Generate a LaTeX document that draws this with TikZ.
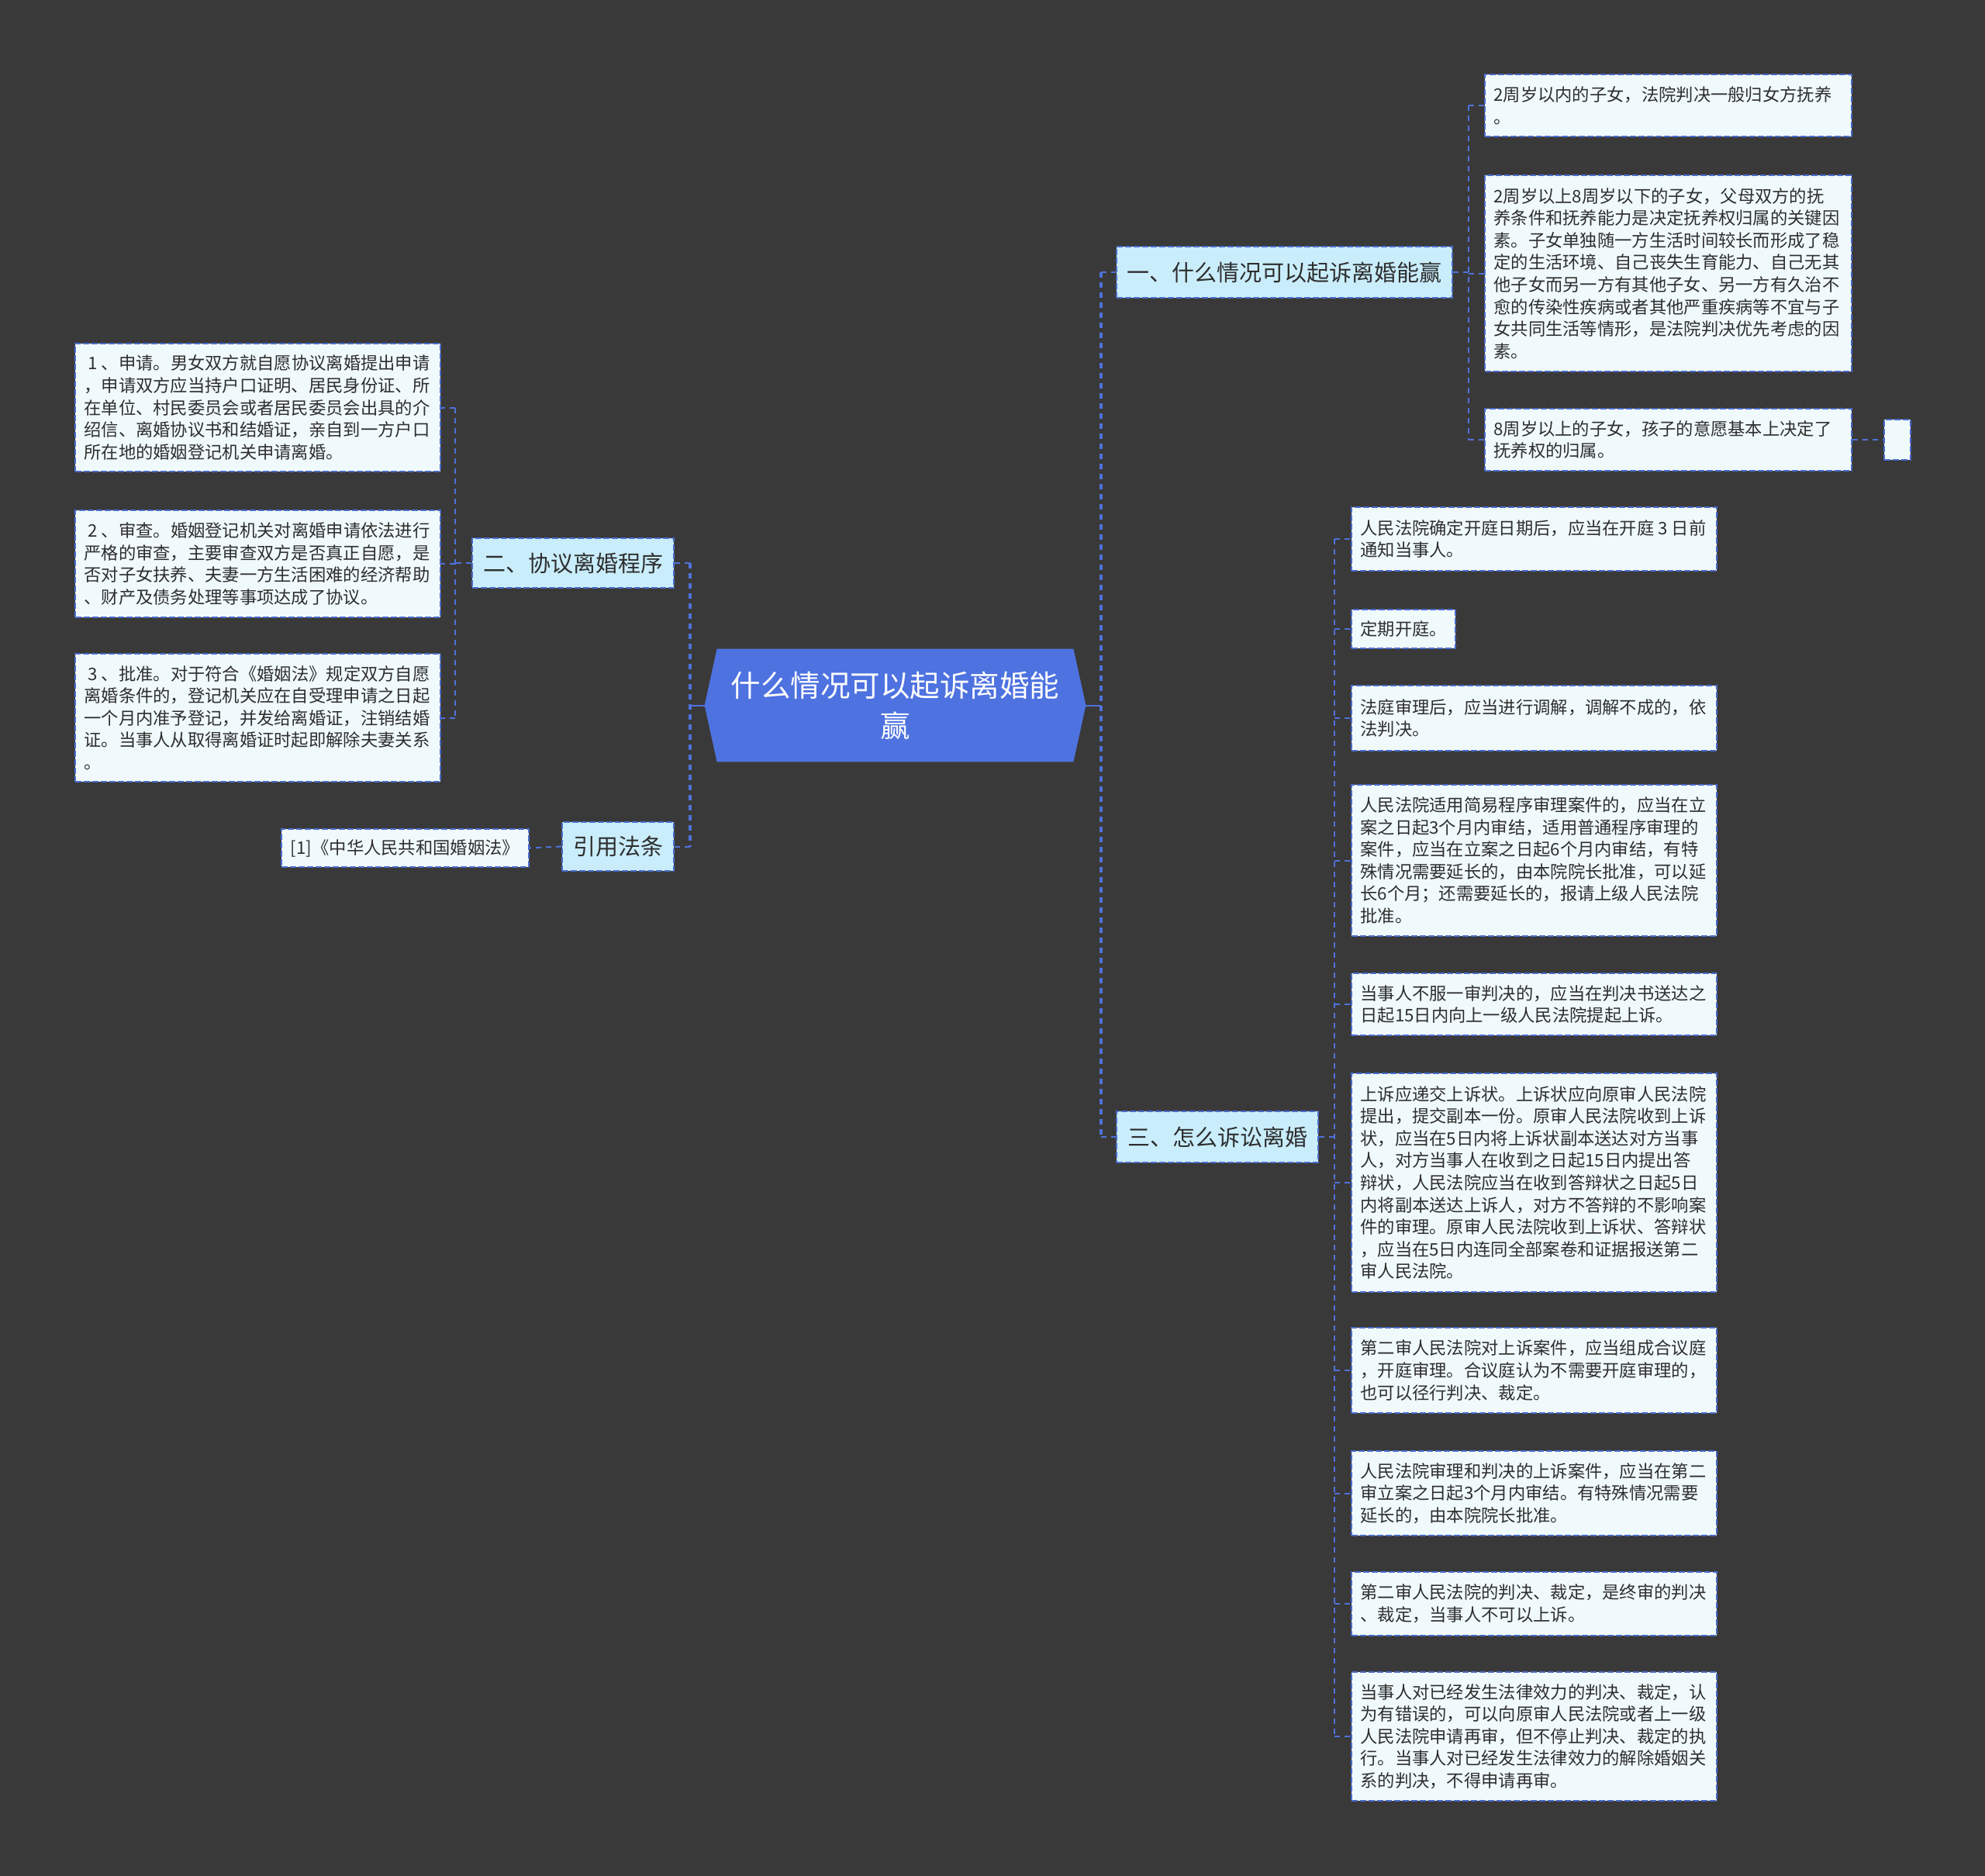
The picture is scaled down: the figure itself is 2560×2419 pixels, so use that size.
\documentclass[tikz,border=0pt]{standalone}
\usepackage{fontspec}
\setmainfont{Noto Sans CJK SC}
\definecolor{bg}{HTML}{3A3939}
\definecolor{lineblue}{HTML}{4E72DC}
\definecolor{bordblue}{HTML}{4A6CCB}
\definecolor{centralfill}{HTML}{4E72E0}
\definecolor{branchfill}{HTML}{C9EDFB}
\definecolor{leaffill}{HTML}{F0FAFD}
\definecolor{txt}{HTML}{2E2E2E}
\begin{document}
\begin{tikzpicture}[x=0.5pt,y=-0.5pt,
  leafbox/.style={draw=bordblue, line width=1pt, dash pattern=on 4pt off 1.5pt, fill=leaffill, inner sep=0pt, anchor=north west},
  leaftxt/.style={inner sep=0pt, align=left, anchor=west, text=txt, font=\fontsize{11.15pt}{14.3pt}\selectfont},
  branch/.style={draw=bordblue, line width=1pt, dash pattern=on 4pt off 1.5pt, fill=branchfill, inner sep=0pt, text=txt, font=\fontsize{14.5pt}{18pt}\selectfont},
  conn/.style={draw=lineblue, line width=1pt, dash pattern=on 3.5pt off 3pt},
  trunk/.style={conn, line width=1.6pt},
  solidconn/.style={draw=lineblue, line width=1pt}
]
\useasboundingbox (0,0) rectangle (2560,2419);
\fill[bg] (0,0) rectangle (2560,2419);

% ---------- central node ----------
\node[minimum width=245.5pt, minimum height=72.5pt, inner sep=0pt] (c) at (1154.5,909.5) {};
\fill[centralfill] (c.west) -- ([xshift=8pt]c.north west) -- ([xshift=-8pt]c.north east) -- (c.east) -- ([xshift=-8pt]c.south east) -- ([xshift=8pt]c.south west) -- cycle;
\node[text=white, align=center, inner sep=0pt, font=\fontsize{19.25pt}{26pt}\selectfont] (ct) at (c.center) {什么情况可以起诉离婚能\\赢};

% ---------- branch nodes ----------
\node[branch, minimum width=216.5pt, minimum height=33pt] (b1) at (1656.5,351) {一、什么情况可以起诉离婚能赢};
\node[branch, minimum width=130pt, minimum height=32pt] (b2) at (739,726) {二、协议离婚程序};
\node[branch, minimum width=130pt, minimum height=33pt] (b3) at (1570,1466) {三、怎么诉讼离婚};
\node[branch, minimum width=72pt, minimum height=31.5pt] (b4) at (797,1091.5) {引用法条};

% ---------- branch 1 leaves ----------
\node[leafbox, minimum width=236.5pt, minimum height=40pt] (t1a) at (1914,95) {};
\node[leaftxt] (t1a-t) at ([xshift=6pt]t1a.west) {2周岁以内的子女，法院判决一般归女方抚养\\。};
\node[leafbox, minimum width=236.5pt, minimum height=126.5pt] (t1b) at (1914,225) {};
\node[leaftxt] (t1b-t) at ([xshift=6pt]t1b.west) {2周岁以上8周岁以下的子女，父母双方的抚\\养条件和抚养能力是决定抚养权归属的关键因\\素。子女单独随一方生活时间较长而形成了稳\\定的生活环境、自己丧失生育能力、自己无其\\他子女而另一方有其他子女、另一方有久治不\\愈的传染性疾病或者其他严重疾病等不宜与子\\女共同生活等情形，是法院判决优先考虑的因\\素。};
\node[leafbox, minimum width=236.5pt, minimum height=40pt] (t1c) at (1914,526) {};
\node[leaftxt] (t1c-t) at ([xshift=6pt]t1c.west) {8周岁以上的子女，孩子的意愿基本上决定了\\抚养权的归属。};
\node[leafbox, minimum width=17pt, minimum height=26pt] (t1d) at (2429,540) {};

% ---------- branch 2 leaves ----------
\node[leafbox, minimum width=235.5pt, minimum height=82.5pt] (l1) at (96,442) {};
\node[leaftxt] (l1-t) at ([xshift=6pt]l1.west) {\hspace{0.25em}1\hspace{0.2em}、申请。男女双方就自愿协议离婚提出申请\\，申请双方应当持户口证明、居民身份证、所\\在单位、村民委员会或者居民委员会出具的介\\绍信、离婚协议书和结婚证，亲自到一方户口\\所在地的婚姻登记机关申请离婚。};
\node[leafbox, minimum width=235.5pt, minimum height=69pt] (l2) at (96,657) {};
\node[leaftxt] (l2-t) at ([xshift=6pt]l2.west) {\hspace{0.25em}2\hspace{0.2em}、审查。婚姻登记机关对离婚申请依法进行\\严格的审查，主要审查双方是否真正自愿，是\\否对子女扶养、夫妻一方生活困难的经济帮助\\、财产及债务处理等事项达成了协议。};
\node[leafbox, minimum width=235.5pt, minimum height=82.5pt] (l3) at (96,842) {};
\node[leaftxt] (l3-t) at ([xshift=6pt]l3.west) {\hspace{0.25em}3\hspace{0.2em}、批准。对于符合《婚姻法》规定双方自愿\\离婚条件的，登记机关应在自受理申请之日起\\一个月内准予登记，并发给离婚证，注销结婚\\证。当事人从取得离婚证时起即解除夫妻关系\\。};

% ---------- reference leaf ----------
\node[leafbox, minimum width=159.5pt, minimum height=24.5pt] (r1) at (362,1068) {};
\node[leaftxt, anchor=center] (r1-t) at (r1.center) {[1]《中华人民共和国婚姻法》};

% ---------- branch 3 leaves ----------
\node[leafbox, minimum width=235.5pt, minimum height=41pt] (ra) at (1742,653) {};
\node[leaftxt] (ra-t) at ([xshift=6pt]ra.west) {人民法院确定开庭日期后，应当在开庭 3 日前\\通知当事人。};
\node[leafbox, minimum width=67pt, minimum height=25pt] (rb) at (1742,785) {};
\node[leaftxt] (rb-t) at ([xshift=6pt]rb.west) {定期开庭。};
\node[leafbox, minimum width=235.5pt, minimum height=42pt] (rc) at (1742,883) {};
\node[leaftxt] (rc-t) at ([xshift=6pt]rc.west) {法庭审理后，应当进行调解，调解不成的，依\\法判决。};
\node[leafbox, minimum width=235.5pt, minimum height=97.5pt] (rd) at (1742,1011) {};
\node[leaftxt] (rd-t) at ([xshift=6pt]rd.west) {人民法院适用简易程序审理案件的，应当在立\\案之日起3个月内审结，适用普通程序审理的\\案件，应当在立案之日起6个月内审结，有特\\殊情况需要延长的，由本院院长批准，可以延\\长6个月；还需要延长的，报请上级人民法院\\批准。};
\node[leafbox, minimum width=235.5pt, minimum height=40pt] (re) at (1742,1254) {};
\node[leaftxt] (re-t) at ([xshift=6pt]re.west) {当事人不服一审判决的，应当在判决书送达之\\日起15日内向上一级人民法院提起上诉。};
\node[leafbox, minimum width=235.5pt, minimum height=141pt] (rf) at (1742,1383) {};
\node[leaftxt] (rf-t) at ([xshift=6pt]rf.west) {上诉应递交上诉状。上诉状应向原审人民法院\\提出，提交副本一份。原审人民法院收到上诉\\状，应当在5日内将上诉状副本送达对方当事\\人，对方当事人在收到之日起15日内提出答\\辩状，人民法院应当在收到答辩状之日起5日\\内将副本送达上诉人，对方不答辩的不影响案\\件的审理。原审人民法院收到上诉状、答辩状\\，应当在5日内连同全部案卷和证据报送第二\\审人民法院。};
\node[leafbox, minimum width=235.5pt, minimum height=55pt] (rg) at (1742,1711) {};
\node[leaftxt] (rg-t) at ([xshift=6pt]rg.west) {第二审人民法院对上诉案件，应当组成合议庭\\，开庭审理。合议庭认为不需要开庭审理的，\\也可以径行判决、裁定。};
\node[leafbox, minimum width=235.5pt, minimum height=54.5pt] (rh) at (1742,1870) {};
\node[leaftxt] (rh-t) at ([xshift=6pt]rh.west) {人民法院审理和判决的上诉案件，应当在第二\\审立案之日起3个月内审结。有特殊情况需要\\延长的，由本院院长批准。};
\node[leafbox, minimum width=235.5pt, minimum height=41pt] (ri) at (1742,2026) {};
\node[leaftxt] (ri-t) at ([xshift=6pt]ri.west) {第二审人民法院的判决、裁定，是终审的判决\\、裁定，当事人不可以上诉。};
\node[leafbox, minimum width=235.5pt, minimum height=83pt] (rj) at (1742,2155) {};
\node[leaftxt] (rj-t) at ([xshift=6pt]rj.west) {当事人对已经发生法律效力的判决、裁定，认\\为有错误的，可以向原审人民法院或者上一级\\人民法院申请再审，但不停止判决、裁定的执\\行。当事人对已经发生法律效力的解除婚姻关\\系的判决，不得申请再审。};

% ---------- connectors ----------
\coordinate (jl) at (890,909.5);
\coordinate (jr) at (1420,909.5);
\draw[solidconn] (c.west) -- (jl);
\draw[solidconn] (c.east) -- (jr);
\draw[trunk] (b2.east -| jl) -- (b4.east -| jl);
\draw[conn] (b2.east -| jl) -- (b2.east);
\draw[conn] (b4.east -| jl) -- (b4.east);
\draw[trunk] (b1.west -| jr) -- (b3.west -| jr);
\draw[conn] (b1.west -| jr) -- (b1.west);
\draw[conn] (b3.west -| jr) -- (b3.west);

% branch 1
\coordinate (k1) at (1894,351);
\draw[conn] (b1.east) -- (k1);
\draw[conn] (t1a.west -| k1) -- (t1c.west -| k1);
\draw[conn] (t1a.west -| k1) -- (t1a.west);
\draw[conn] (t1b.west -| k1) -- (t1b.west);
\draw[conn] (t1c.west -| k1) -- (t1c.west);
\draw[conn] (t1c.east) -- (t1d.west);

% branch 2
\coordinate (k2) at (587,726);
\draw[conn] (b2.west) -- (k2);
\draw[conn] (l1.east -| k2) -- (l3.east -| k2);
\draw[conn] (l1.east -| k2) -- (l1.east);
\draw[conn] (l2.east -| k2) -- (l2.east);
\draw[conn] (l3.east -| k2) -- (l3.east);

% reference
\draw[conn] (b4.west) -- (r1.east);

% branch 3
\coordinate (k3) at (1721,1466);
\draw[conn] (b3.east) -- (k3);
\draw[conn] (ra.west -| k3) -- (rj.west -| k3);
\foreach \n in {ra,rb,rc,rd,re,rf,rg,rh,ri,rj}{
  \draw[conn] (\n.west -| k3) -- (\n.west);
}
\end{tikzpicture}
\end{document}
